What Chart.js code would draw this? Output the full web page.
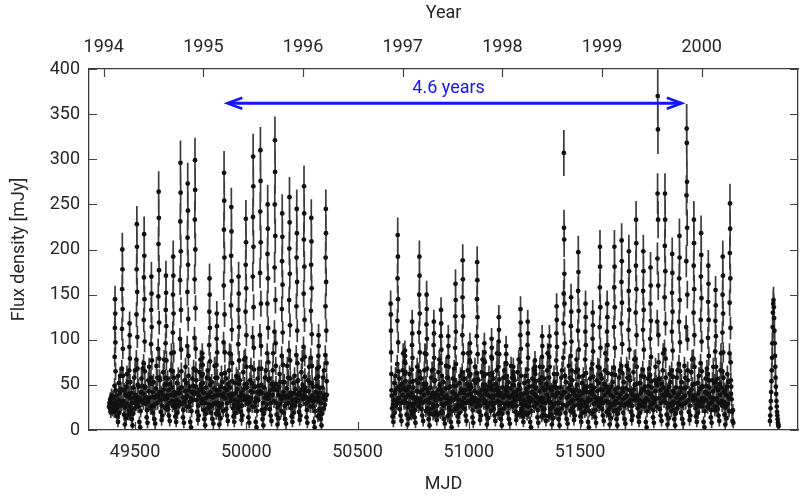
<!DOCTYPE html>
<html>
<head>
<meta charset="utf-8">
<script src="https://cdn.jsdelivr.net/npm/chart.js@4.4.1/dist/chart.umd.min.js"></script>
<style>
  html, body { margin: 0; padding: 0; background: #ffffff; }
  canvas { display: block; }
</style>
</head>
<body>
<canvas id="c" width="806" height="499"></canvas>
<script>
// ---------------- DATA ----------------
const mjdTicks  = [49500, 50000, 50500, 51000, 51500];
const yearTicks = [1994, 1995, 1996, 1997, 1998, 1999, 2000];
const fluxTicks = [0, 50, 100, 150, 200, 250, 300, 350, 400];

// observation times within one orbital cycle (days from the cycle start):
// sparse sampling in quiescence, dense sampling during the outburst
const cycleOffsets = [0, 1.9, 3.8, 5.7, 7.6, 9.5, 11.4, 13.3, 15.2, 17.1, 19.0, 20.9, 22.8,
                      24.0, 24.75, 25.5, 26.25, 27.0, 27.75, 28.5, 29.25, 30.0, 30.75, 31.5];

// first cycle start (MJD) and cycle length of each observing season
const seg1Start = 49383.1, seg1Period = 32.67;
const seg2Start = 50621.2, seg2Period = 32.47;
// season 3: regular sampling
const seg3Start = 52354.0, seg3Step = 1.33;

// flux density [mJy], season 1 (one row per orbital cycle, 24 samples)
const seg1Flux = [
  26,30,24,34,20,28,38,26,22,30,36,28,24, 20,49,81,113,145,129,97,65,44,32,23,
  38,24,15,28,9,33,52,19,41,60,27,45,31, 28,68,112,156,200,178,134,90,60,44,32,
  30,17,44,6,25,39,13,48,62,29,53,37,21, 17,40,66,92,118,105,79,53,35,26,19,
  22,41,12,30,5,18,47,36,58,24,66,39,28, 32,78,128,178,228,203,153,103,68,50,36,
  26,48,31,9,35,3,21,42,57,33,49,68,40, 30,74,122,169,217,193,145,98,65,48,35,
  47,29,36,14,22,8,31,55,43,70,35,52,26, 24,58,95,133,170,151,114,77,51,37,27,
  42,19,53,27,12,36,7,29,46,71,38,58,30, 37,90,148,206,264,235,177,119,79,58,42,
  55,33,20,41,11,27,16,38,64,45,78,50,34, 24,58,96,133,171,152,115,77,51,38,27,
  35,57,23,44,16,30,10,51,39,66,85,47,32, 27,65,108,150,192,171,129,86,58,42,31,
  38,24,15,28,9,33,52,19,41,60,27,45,31, 41,101,166,231,296,263,198,133,89,65,47,
  47,29,36,14,22,8,31,55,43,70,35,52,26, 38,93,153,213,273,243,183,123,82,60,44,
  26,48,31,9,35,3,21,42,57,33,49,68,40, 42,102,167,233,299,266,200,135,90,66,48,
  55,33,20,41,11,27,16,38,64,45,78,50,34, 30,45,60,72,85,80,72,62,52,42,34,
  22,41,12,30,5,18,47,36,58,24,66,39,28, 24,57,94,131,168,150,113,76,50,37,27,
  42,19,53,27,12,36,7,29,46,71,38,58,30, 18,44,72,101,129,115,86,58,39,28,21,
  30,17,44,6,25,39,13,48,62,29,53,37,21, 40,97,160,222,285,254,191,128,86,63,46,
  35,57,23,44,16,30,10,51,39,66,85,47,32, 35,84,138,193,247,220,165,111,74,54,40,
  38,24,15,28,9,33,52,19,41,60,27,45,31, 24,58,95,133,170,151,114,77,51,37,27,
  55,33,20,41,11,27,16,38,64,45,78,50,34, 33,80,131,183,234,208,157,105,70,51,37,
  47,29,36,14,22,8,31,55,43,70,35,52,26, 42,103,170,236,303,270,203,136,91,67,48,
  26,48,31,9,35,3,21,42,57,33,49,68,40, 43,105,174,242,310,276,208,140,93,68,50,
  22,41,12,30,5,18,47,36,58,24,66,39,28, 35,85,140,195,250,223,168,113,75,55,40,
  35,57,23,44,16,30,10,51,39,66,85,47,32, 45,109,180,250,321,286,215,144,96,71,51,
  30,17,44,6,25,39,13,48,62,29,53,37,21, 34,82,134,187,240,214,161,108,72,53,38,
  42,19,53,27,12,36,7,29,46,71,38,58,30, 36,88,144,201,258,230,173,116,77,57,41,
  38,24,15,28,9,33,52,19,41,60,27,45,31, 34,83,137,191,245,218,164,110,74,54,39,
  55,33,20,41,11,27,16,38,64,45,78,50,34, 38,92,151,211,270,240,181,122,81,59,43,
  47,29,36,14,22,8,31,55,43,70,35,52,26, 33,80,132,183,235,209,157,106,71,52,38,
  26,48,31,9,35,3,21,42,57,33,49,68,40, 15,36,59,82,105,93,70,47,32,23,17,
  22,41,12,30,5,18,47,36,58,24,66,39,28, 34,83,137,191,245,218,164,110,74,54,39
];

// flux density [mJy], season 2 (null = no observation)
const seg2Flux = [
  null,null,null,null,null,null,null,null,null,null,null,null,null, null,null,null,null,null,140,128,110,86,62,44,
  38,24,15,28,9,33,52,19,41,60,27,45,31, 30,73,121,168,216,192,145,97,65,48,35,
  35,57,23,44,16,30,10,51,39,66,85,47,32, 30,46,62,76,88,82,74,64,54,44,36,
  30,17,44,6,25,39,13,48,62,29,53,37,21, 17,41,67,94,120,107,80,54,36,26,19,
  47,29,36,14,22,8,31,55,43,70,35,52,26, 27,65,108,150,192,171,129,86,58,42,31,
  35,57,23,44,16,30,10,51,39,66,85,47,32, 21,51,84,117,150,134,101,68,45,33,24,
  22,41,12,30,5,18,47,36,58,24,66,39,28, 17,41,67,94,120,107,80,54,36,26,19,
  55,33,20,41,11,27,16,38,64,45,78,50,34, 19,45,74,104,133,118,89,60,40,29,21,
  42,19,53,27,12,36,7,29,46,71,38,58,30, 15,35,58,81,104,93,70,47,31,23,17,
  26,48,31,9,35,3,21,42,57,33,49,68,40, 23,55,91,126,162,144,109,73,49,36,26,
  38,24,15,28,9,33,52,19,41,60,27,45,31, 26,64,105,147,188,167,126,85,56,41,30,
  35,57,23,44,16,30,10,51,39,66,85,47,32, 30,45,60,77,96,86,75,62,50,40,32,
  47,29,36,14,22,8,31,55,43,70,35,52,26, 26,63,104,145,186,166,125,84,56,41,30,
  55,33,20,41,11,27,16,38,64,45,78,50,34, 30,45,60,77,96,86,75,62,50,40,32,
  30,17,44,6,25,39,13,48,62,29,53,37,21, 30,45,61,81,101,91,79,63,49,38,28,
  35,57,23,44,16,30,10,51,39,66,85,47,32, 18,43,70,98,125,111,84,56,38,28,20,
  22,41,12,30,5,18,47,36,58,24,66,39,28, 28,44,58,74,93,84,73,60,48,38,30,
  42,19,53,27,12,36,7,29,46,71,38,58,30, 26,38,50,60,70,64,58,50,42,36,30,
  55,33,20,41,11,27,16,38,64,45,78,50,34, 19,46,75,105,134,119,90,60,40,29,21,
  38,24,15,28,9,33,52,19,41,60,27,45,31, 17,41,67,94,120,107,80,54,36,26,19,
  26,48,31,9,35,3,21,42,57,33,49,68,40, 26,40,54,66,77,70,62,54,46,38,30,
  47,29,36,14,22,8,31,55,43,70,35,52,26, 15,35,58,81,104,93,70,47,31,23,17,
  35,57,23,44,16,30,10,51,39,66,85,47,32, 15,35,58,81,104,93,70,47,31,23,17,
  30,17,44,6,25,39,13,48,62,29,53,37,21, 19,47,77,107,137,122,92,62,41,30,22,
  22,41,12,30,5,18,47,36,58,24,66,39,28, 42,80,118,151,307,224,211,173,140,96,60,
  42,19,53,27,12,36,7,29,46,71,38,58,30, 21,50,82,115,147,131,98,66,44,32,24,
  55,33,20,41,11,27,16,38,64,45,78,50,34, 28,67,110,154,197,175,132,89,59,43,32,
  38,24,15,28,9,33,52,19,41,60,27,45,31, 20,48,78,109,140,125,94,63,42,31,22,
  26,48,31,9,35,3,21,42,57,33,49,68,40, 18,44,73,101,130,116,87,59,39,29,21,
  47,29,36,14,22,8,31,55,43,70,35,52,26, 28,69,114,158,203,181,136,91,61,45,32,
  35,57,23,44,16,30,10,51,39,66,85,47,32, 20,48,78,109,140,125,94,63,42,31,22,
  30,17,44,6,25,39,13,48,62,29,53,37,21, 28,69,114,158,203,181,136,91,61,45,32,
  22,41,12,30,5,18,47,36,58,24,66,39,28, 29,71,118,164,210,187,141,95,63,46,34,
  42,19,53,27,12,36,7,29,46,71,38,58,30, 28,67,111,154,198,176,133,89,59,44,32,
  55,33,20,41,11,27,16,38,64,45,78,50,34, 33,79,130,182,233,207,156,105,70,51,37,
  38,24,15,28,9,33,52,19,41,60,27,45,31, 28,67,111,154,198,176,133,89,59,44,32,
  26,48,31,9,35,3,21,42,57,33,49,68,40, 25,61,101,140,180,160,121,81,54,40,29,
  47,29,36,14,22,8,31,55,43,70,35,52,26, 50,120,190,262,370,333,233,160,105,75,55,
  35,57,23,44,16,30,10,51,39,66,85,47,32, 37,89,147,204,262,233,176,118,79,58,42,
  30,17,44,6,25,39,13,48,62,29,53,37,21, 27,66,109,152,195,174,131,88,59,43,31,
  22,41,12,30,5,18,47,36,58,24,66,39,28, 30,73,120,168,215,191,144,97,65,47,34,
  42,19,53,27,12,36,7,29,46,71,38,58,30, 47,114,187,260,334,318,275,224,150,100,66,
  55,33,20,41,11,27,16,38,64,45,78,50,34, 33,79,130,182,233,207,156,105,70,51,37,
  38,24,15,28,9,33,52,19,41,60,27,45,31, 31,74,122,170,218,194,146,98,65,48,35,
  26,48,31,9,35,3,21,42,57,33,49,68,40, 25,62,102,142,182,162,122,82,55,40,29,
  47,29,36,14,22,8,31,55,43,70,35,52,26, 22,53,87,121,155,138,104,70,47,34,25,
  35,57,23,44,16,30,10,51,39,66,85,47,32, 27,65,108,150,192,171,129,86,58,42,31,
  30,17,44,6,25,39,13,48,62,29,53,37,21, 35,85,141,196,251,223,168,113,75,55,40,
  48,34,20,10,22,8,null,null,null,null,null,null,null, null,null,null,null,null,null,null,null,null,null,null
];

// flux density [mJy], season 3
const seg3Flux = [10,16,24,32,42,54,66,80,96,114,130,140,144,136,124,110,96,82,70,58,48,40,32,26,20,16,12,8,6,4];

// typical error-bar half-length: ~6.5% of the flux + 5.5 mJy
const ERR_REL = 0.065, ERR_ABS = 5.5;

// annotation: superorbital period arrow (in years on the top axis)
const arrowYears = [1995.24, 1999.80];
const arrowFlux = 362;
const arrowLabel = '4.6 years';
const arrowLabelYear = 1997.46, arrowLabelFlux = 373.5;

// axis ranges
const X_MIN = 49293, X_MAX = 52480;
const YEAR_MIN = 1993.852, YEAR_MAX = 2000.966;
const Y_MIN = 0, Y_MAX = 400;

// ---------------- build points ----------------
function cycles(start, period, flux) {
  const n = cycleOffsets.length, out = [];
  flux.forEach((v, i) => {
    if (v === null) return;
    out.push({ x: start + Math.floor(i / n) * period + cycleOffsets[i % n], y: v });
  });
  return out;
}
function regular(start, step, flux) {
  return flux.map((v, i) => ({ x: start + i * step, y: v }));
}
const points = [].concat(
  cycles(seg1Start, seg1Period, seg1Flux),
  cycles(seg2Start, seg2Period, seg2Flux),
  regular(seg3Start, seg3Step, seg3Flux)
);

// ---------------- styles ----------------
const TXT = '#262626';
const FRAME = '#3a3a3a';
const BLUE = 'rgb(20,20,255)';
Chart.defaults.font.family = 'Roboto, "Liberation Sans", sans-serif';
Chart.defaults.font.size = 18;

const framePlugin = {
  id: 'framePlugin',
  beforeDatasetsDraw(chart) {
    const ctx = chart.ctx, xs = chart.scales.x, ys = chart.scales.y, a = chart.chartArea;
    ctx.save();
    ctx.beginPath();
    ctx.rect(a.left, a.top, a.right - a.left, a.bottom - a.top);
    ctx.clip();
    ctx.strokeStyle = '#3c3c3c';
    ctx.lineWidth = 1.7;
    ctx.beginPath();
    for (const p of points) {
      const e = ERR_REL * p.y + ERR_ABS;
      const px = xs.getPixelForValue(p.x);
      ctx.moveTo(px, ys.getPixelForValue(Math.max(Y_MIN, p.y - e)));
      ctx.lineTo(px, ys.getPixelForValue(p.y + e));
    }
    ctx.stroke();
    ctx.restore();
  },
  afterDatasetsDraw(chart) {
    const ctx = chart.ctx, xs = chart.scales.x, x2 = chart.scales.x2, ys = chart.scales.y, a = chart.chartArea;
    const TL = 8;
    ctx.save();
    // inward tick marks on all four sides
    ctx.strokeStyle = '#444';
    ctx.lineWidth = 1.2;
    ctx.beginPath();
    for (const v of fluxTicks) {
      const py = Math.round(ys.getPixelForValue(v)) + 0.5;
      ctx.moveTo(a.left, py); ctx.lineTo(a.left + TL, py);
      ctx.moveTo(a.right, py); ctx.lineTo(a.right - TL, py);
    }
    for (const v of mjdTicks) {
      const px = Math.round(xs.getPixelForValue(v)) + 0.5;
      ctx.moveTo(px, a.bottom); ctx.lineTo(px, a.bottom - TL);
    }
    for (const v of yearTicks) {
      const px = Math.round(x2.getPixelForValue(v)) + 0.5;
      ctx.moveTo(px, a.top); ctx.lineTo(px, a.top + TL);
    }
    ctx.stroke();

    // double-headed arrow
    const ax1 = x2.getPixelForValue(arrowYears[0]);
    const ax2 = x2.getPixelForValue(arrowYears[1]);
    const ay = ys.getPixelForValue(arrowFlux);
    ctx.strokeStyle = BLUE;
    ctx.lineWidth = 3;
    ctx.lineCap = 'butt';
    ctx.beginPath();
    ctx.moveTo(ax1 + 1, ay); ctx.lineTo(ax2 - 1, ay);
    ctx.stroke();
    ctx.lineWidth = 2.6;
    ctx.beginPath();
    ctx.moveTo(ax1 + 15, ay - 5.5); ctx.lineTo(ax1, ay); ctx.lineTo(ax1 + 15, ay + 5.5);
    ctx.moveTo(ax2 - 15, ay - 5.5); ctx.lineTo(ax2, ay); ctx.lineTo(ax2 - 15, ay + 5.5);
    ctx.stroke();

    ctx.fillStyle = BLUE;
    ctx.font = '18px Roboto, "Liberation Sans", sans-serif';
    ctx.textAlign = 'center';
    ctx.textBaseline = 'alphabetic';
    ctx.fillText(arrowLabel, x2.getPixelForValue(arrowLabelYear), ys.getPixelForValue(arrowLabelFlux));
    ctx.restore();
  }
};

const setTicks = (arr) => (s) => { s.ticks = arr.map(v => ({ value: v })); };

new Chart(document.getElementById('c').getContext('2d'), {
  type: 'scatter',
  data: {
    datasets: [{
      data: points,
      pointRadius: 2.4,
      pointHoverRadius: 2.4,
      pointBackgroundColor: '#111',
      pointBorderWidth: 0,
      showLine: false
    }]
  },
  options: {
    responsive: false,
    animation: false,
    devicePixelRatio: 1,
    events: [],
    layout: { padding: 0 },
    plugins: { legend: { display: false }, tooltip: { enabled: false } },
    scales: {
      x: {
        type: 'linear', position: 'bottom', min: X_MIN, max: X_MAX,
        afterBuildTicks: setTicks(mjdTicks),
        afterFit: (s) => { s.height = 69; },
        grid: { display: false, drawTicks: false },
        border: { display: true, color: FRAME, width: 1.3 },
        ticks: { padding: 12, color: TXT, maxRotation: 0, autoSkip: false, callback: (v) => String(v) },
        title: { display: true, text: 'MJD', color: TXT, padding: { top: 0, bottom: 4 } }
      },
      x2: {
        type: 'linear', position: 'top', min: YEAR_MIN, max: YEAR_MAX,
        afterBuildTicks: setTicks(yearTicks),
        afterFit: (s) => { s.height = 69; },
        grid: { display: false, drawTicks: false },
        border: { display: true, color: FRAME, width: 1.3 },
        ticks: { padding: 11, color: TXT, maxRotation: 0, autoSkip: false, callback: (v) => String(v) },
        title: { display: true, text: 'Year', color: TXT, padding: { top: 3, bottom: 0 } }
      },
      y: {
        type: 'linear', position: 'left', min: Y_MIN, max: Y_MAX,
        afterBuildTicks: setTicks(fluxTicks),
        afterFit: (s) => { s.width = 89; },
        grid: { display: false, drawTicks: false },
        border: { display: true, color: FRAME, width: 1.3 },
        ticks: { padding: 9, color: TXT, autoSkip: false, callback: (v) => String(v) },
        title: { display: true, text: 'Flux density [mJy]', color: TXT, padding: { top: 9, bottom: 0 } }
      },
      y2: {
        type: 'linear', position: 'right', min: Y_MIN, max: Y_MAX,
        afterFit: (s) => { s.width = 8; },
        grid: { display: false, drawTicks: false },
        border: { display: true, color: FRAME, width: 1.3 },
        ticks: { display: false }
      }
    }
  },
  plugins: [framePlugin]
});
</script>
</body>
</html>
